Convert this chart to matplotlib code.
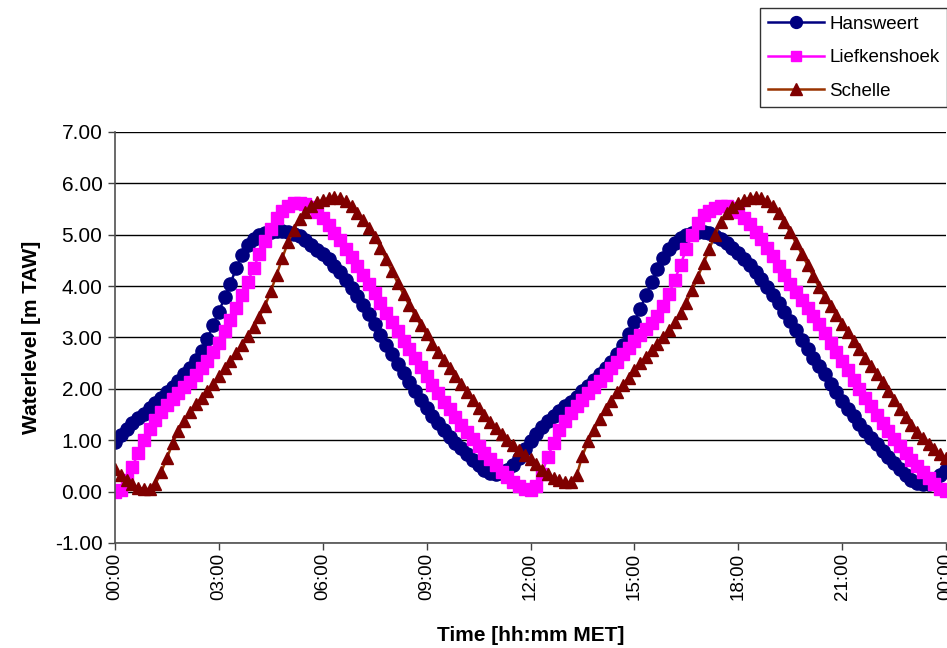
import matplotlib.pyplot as plt
import numpy as np

plt.rcParams['font.family'] = ['Liberation Sans', 'DejaVu Sans']

# waterlevels every 10 minutes, 00:00 .. 24:00 (6 values per hour)
minutes = list(range(0, 24 * 60 + 1, 10))

hansweert = [0.96, 1.10, 1.22, 1.33, 1.43, 1.52,   # 00h
             1.62, 1.72, 1.82, 1.93, 2.04, 2.15,   # 01h
             2.28, 2.41, 2.56, 2.74, 2.98, 3.24,   # 02h
             3.50, 3.78, 4.05, 4.35, 4.60, 4.80,   # 03h
             4.92, 5.00, 5.04, 5.06, 5.07, 5.07,   # 04h
             5.05, 5.02, 4.97, 4.89, 4.80, 4.71,   # 05h
             4.62, 4.52, 4.40, 4.27, 4.12, 3.97,   # 06h
             3.81, 3.64, 3.46, 3.26, 3.05, 2.86,   # 07h
             2.68, 2.49, 2.31, 2.13, 1.95, 1.78,   # 08h
             1.62, 1.47, 1.33, 1.20, 1.07, 0.95,   # 09h
             0.84, 0.73, 0.62, 0.52, 0.43, 0.37,   # 10h
             0.34, 0.36, 0.42, 0.52, 0.65, 0.82,   # 11h
             0.98, 1.12, 1.26, 1.38, 1.48, 1.57,   # 12h
             1.66, 1.75, 1.85, 1.96, 2.06, 2.17,   # 13h
             2.28, 2.40, 2.52, 2.68, 2.86, 3.07,   # 14h
             3.30, 3.56, 3.82, 4.08, 4.33, 4.55,   # 15h
             4.72, 4.84, 4.93, 4.99, 5.03, 5.05,   # 16h
             5.05, 5.03, 4.98, 4.91, 4.83, 4.74,   # 17h
             4.64, 4.53, 4.41, 4.28, 4.14, 3.99,   # 18h
             3.83, 3.67, 3.50, 3.32, 3.14, 2.95,   # 19h
             2.77, 2.60, 2.45, 2.28, 2.10, 1.93,   # 20h
             1.77, 1.61, 1.47, 1.32, 1.18, 1.05,   # 21h
             0.92, 0.80, 0.68, 0.56, 0.44, 0.33,   # 22h
             0.23, 0.17, 0.14, 0.15, 0.22, 0.32,   # 23h
             0.42]

liefkenshoek = [0.00, 0.03, 0.22, 0.48, 0.75, 1.00,
                1.22, 1.40, 1.55, 1.68, 1.80, 1.92,
                2.03, 2.14, 2.27, 2.40, 2.55, 2.72,
                2.90, 3.12, 3.35, 3.58, 3.82, 4.08,
                4.35, 4.62, 4.88, 5.12, 5.32, 5.47,
                5.56, 5.61, 5.62, 5.60, 5.54, 5.44,
                5.32, 5.19, 5.04, 4.89, 4.73, 4.57,
                4.40, 4.22, 4.04, 3.86, 3.67, 3.48,
                3.30, 3.12, 2.94, 2.77, 2.60, 2.42,
                2.25, 2.08, 1.91, 1.75, 1.60, 1.45,
                1.30, 1.16, 1.02, 0.89, 0.76, 0.63,
                0.51, 0.39, 0.28, 0.18, 0.10, 0.05,
                0.04, 0.10, 0.35, 0.68, 0.95, 1.20,
                1.38, 1.54, 1.67, 1.79, 1.92, 2.04,
                2.15, 2.27, 2.40, 2.53, 2.67, 2.80,
                2.93, 3.05, 3.16, 3.28, 3.42, 3.62,
                3.85, 4.12, 4.42, 4.72, 5.00, 5.22,
                5.38, 5.47, 5.53, 5.56, 5.56, 5.52,
                5.44, 5.33, 5.20, 5.06, 4.91, 4.75,
                4.58, 4.40, 4.21, 4.05, 3.89, 3.73,
                3.57, 3.41, 3.26, 3.08, 2.90, 2.72,
                2.54, 2.36, 2.18, 2.00, 1.83, 1.66,
                1.50, 1.34, 1.18, 1.03, 0.89, 0.75,
                0.62, 0.50, 0.38, 0.26, 0.14, 0.05,
                0.02]

schelle = [0.45, 0.33, 0.22, 0.14, 0.08, 0.05,
           0.05, 0.15, 0.38, 0.65, 0.95, 1.18,
           1.38, 1.55, 1.70, 1.83, 1.96, 2.10,
           2.25, 2.40, 2.55, 2.70, 2.86, 3.03,
           3.20, 3.40, 3.62, 3.90, 4.22, 4.55,
           4.86, 5.10, 5.30, 5.45, 5.56, 5.63,
           5.68, 5.71, 5.73, 5.71, 5.65, 5.55,
           5.43, 5.29, 5.13, 4.96, 4.75, 4.52,
           4.29, 4.06, 3.84, 3.63, 3.43, 3.24,
           3.06, 2.88, 2.72, 2.56, 2.41, 2.25,
           2.10, 1.94, 1.79, 1.63, 1.49, 1.36,
           1.23, 1.12, 1.01, 0.91, 0.81, 0.72,
           0.63, 0.53, 0.43, 0.34, 0.27, 0.22,
           0.19, 0.18, 0.32, 0.70, 0.98, 1.20,
           1.42, 1.60, 1.77, 1.93, 2.08, 2.22,
           2.36, 2.50, 2.63, 2.76, 2.88, 3.00,
           3.14, 3.30, 3.48, 3.68, 3.92, 4.18,
           4.45, 4.73, 5.00, 5.24, 5.42, 5.54,
           5.62, 5.68, 5.72, 5.74, 5.72, 5.65,
           5.55, 5.42, 5.25, 5.05, 4.84, 4.63,
           4.41, 4.19, 3.98, 3.79, 3.61, 3.44,
           3.27, 3.10, 2.93, 2.77, 2.61, 2.45,
           2.29, 2.13, 1.96, 1.79, 1.61, 1.45,
           1.30, 1.16, 1.04, 0.93, 0.83, 0.74,
           0.66]

xtick_hours = [0, 3, 6, 9, 12, 15, 18, 21, 24]
xtick_labels = ['00:00', '03:00', '06:00', '09:00', '12:00',
                '15:00', '18:00', '21:00', '00:00']
yticks = [-1, 0, 1, 2, 3, 4, 5, 6, 7]

t = np.array(minutes) / 60.0

fig = plt.figure(figsize=(9.47, 6.48), dpi=100)
ax = fig.add_axes([115/947, 1-543/648, 831/947, 411/648])

l1, = ax.plot(t, hansweert, color='#000080', lw=1.8, marker='o', ms=9.5,
              mfc='#000080', mec='#000080', label='Hansweert')
l2, = ax.plot(t, liefkenshoek, color='#FF00FF', lw=1.8, marker='s', ms=8,
              mfc='#FF00FF', mec='#FF00FF', label='Liefkenshoek')
l3, = ax.plot(t, schelle, color='#993300', lw=1.8, marker='^', ms=9,
              mfc='#800000', mec='#800000', label='Schelle')

ax.set_xlim(0, 24)
ax.set_ylim(-1, 7)
ax.set_xticks(xtick_hours)
ax.set_xticklabels(xtick_labels, rotation=90, fontsize=13.5)
ax.set_yticks(yticks)
ax.set_yticklabels(['%.2f' % v for v in yticks], fontsize=15)
ax.tick_params(direction='out', length=5, width=1, color='#404040')
ax.tick_params(axis='y', pad=4)
ax.tick_params(axis='x', pad=2)

ax.yaxis.grid(True, color='black', lw=1)
ax.set_axisbelow(True)
for s in ['top', 'right']:
    ax.spines[s].set_visible(False)
for s in ['left', 'bottom']:
    ax.spines[s].set_color('#505050')
    ax.spines[s].set_linewidth(1.2)

ax.set_xlabel('Time [hh:mm MET]', fontsize=15, fontweight='bold', labelpad=19)
ax.set_ylabel('Waterlevel [m TAW]', fontsize=15, fontweight='bold', labelpad=10)

leg = fig.legend(handles=[l1, l2, l3], loc='upper left',
                 bbox_to_anchor=(760/947, 1-8/648), fontsize=13.5,
                 frameon=True, fancybox=False, edgecolor='black',
                 handlelength=3.0, handletextpad=0.3, labelspacing=0.88,
                 borderpad=0.4, borderaxespad=0, markerscale=0.9)
leg.get_frame().set_linewidth(1)

fig.savefig('out.png', dpi=100)
